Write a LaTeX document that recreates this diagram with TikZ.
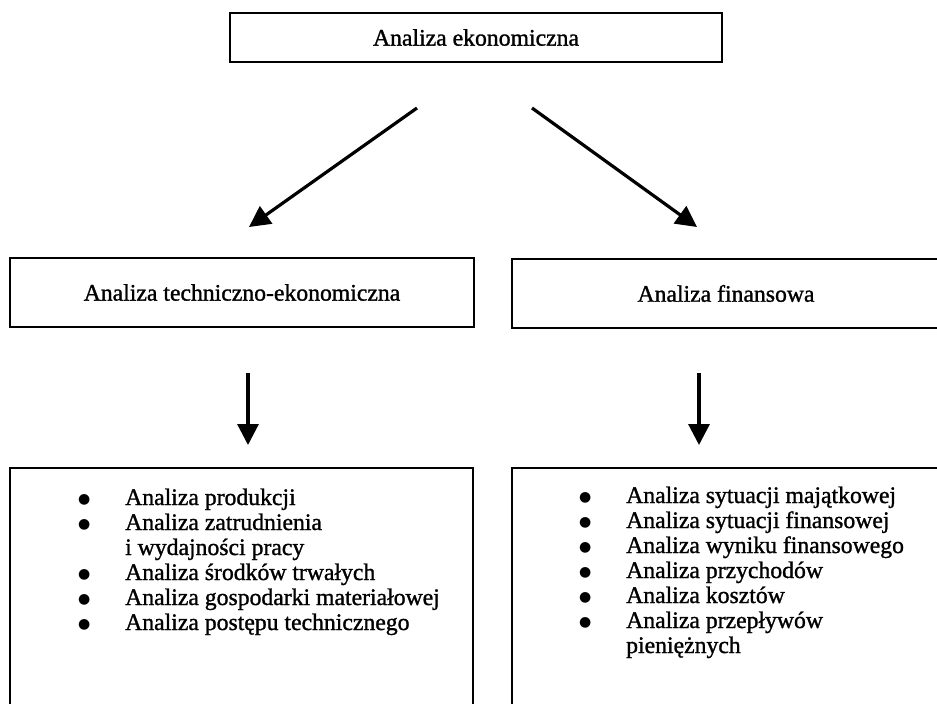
\documentclass[tikz,border=0pt]{standalone}
\usepackage{fontspec}
\setmainfont[FakeBold=1.2]{Liberation Serif}
\newfontfamily\dejavu{DejaVu Sans}
\usetikzlibrary{arrows.meta}
\newcommand{\blt}{\makebox[47pt][l]{\raisebox{1.8pt}{\fontsize{14}{14}\dejavu ●}}}
\begin{document}
\begin{tikzpicture}[x=1pt,y=1pt,
  box/.style={draw, line width=2.9pt, inner sep=0pt, font=\fontsize{23.7}{25}\selectfont},
  listtxt/.style={inner sep=0pt, anchor=base west, font=\fontsize{23.7}{25}\selectfont},
  arr/.style={line width=3.2pt, -{Triangle[length=21pt,width=21pt]}},
]
\useasboundingbox (0,0) rectangle (937,-704);
% boxes
\node[box, minimum width=492pt, minimum height=49pt] (top) at (476,-37.5) {Analiza ekonomiczna};
\node[box, minimum width=464pt, minimum height=69pt] (midL) at (242,-292.5) {Analiza techniczno-ekonomiczna};
\node[box, minimum width=428pt, minimum height=69pt] (midR) at (726,-293.5) {Analiza finansowa};
\node[box, minimum width=463pt, minimum height=252pt] (botL) at (241.5,-594) {};
\node[box, minimum width=428pt, minimum height=252pt] (botR) at (726,-594) {};
% lists
\node[listtxt] (listL) at (78,-505) {\begin{tabular}[t]{@{}l@{}l@{}}
\blt & Analiza produkcji\\
\blt & Analiza zatrudnienia\\
 & i wydajności pracy\\
\blt & Analiza środków trwałych\\
\blt & Analiza gospodarki materiałowej\\
\blt & Analiza postępu technicznego
\end{tabular}};
\node[listtxt] (listR) at (579,-503) {\begin{tabular}[t]{@{}l@{}l@{}}
\blt & Analiza sytuacji majątkowej\\
\blt & Analiza sytuacji finansowej\\
\blt & Analiza wyniku finansowego\\
\blt & Analiza przychodów\\
\blt & Analiza kosztów\\
\blt & Analiza przepływów\\
 & pieniężnych
\end{tabular}};
% arrows
\coordinate (a1s) at (417,-108);
\coordinate (a1e) at (249,-227);
\coordinate (a2s) at (532,-108);
\coordinate (a2e) at (697,-227);
\coordinate (a3s) at (248,-373);
\coordinate (a3e) at (248,-445);
\coordinate (a4s) at (699,-373);
\coordinate (a4e) at (699,-445);
\draw[arr] (a1s) -- (a1e);
\draw[arr] (a2s) -- (a2e);
\draw[arr] (a3s) -- (a3e);
\draw[arr] (a4s) -- (a4e);
\end{tikzpicture}
\end{document}
